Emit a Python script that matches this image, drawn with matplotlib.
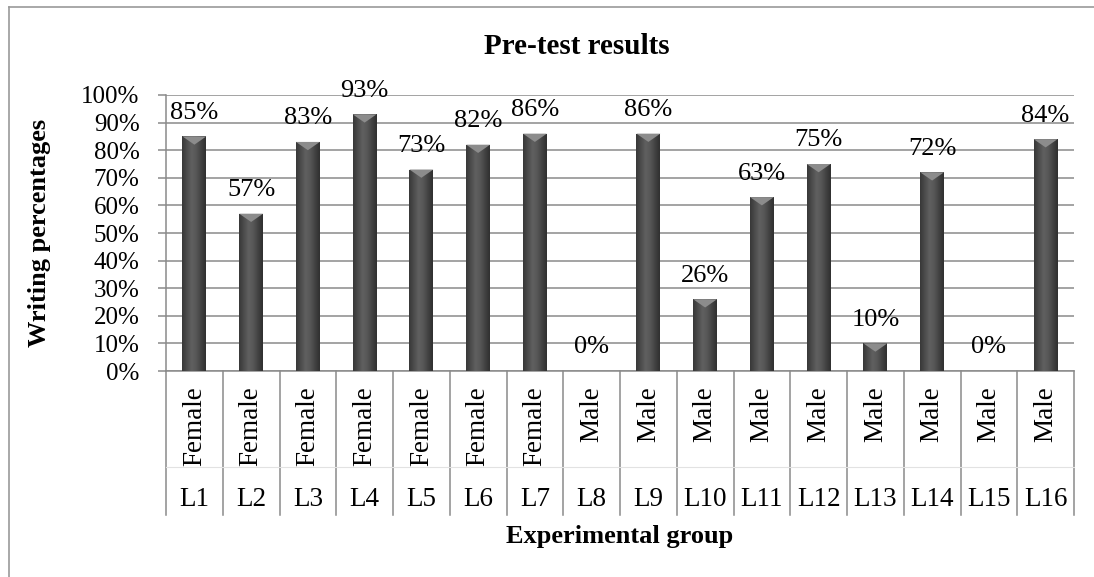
import matplotlib.pyplot as plt
import numpy as np
from matplotlib.colors import LinearSegmentedColormap
from matplotlib.patches import Polygon
from matplotlib.lines import Line2D
from matplotlib.transforms import blended_transform_factory

# Chart data
groups = ['L1', 'L2', 'L3', 'L4', 'L5', 'L6', 'L7', 'L8',
          'L9', 'L10', 'L11', 'L12', 'L13', 'L14', 'L15', 'L16']
genders = ['Female'] * 7 + ['Male'] * 9
scores = [85, 57, 83, 93, 73, 82, 86, 0, 86, 26, 63, 75, 10, 72, 0, 84]

plt.rcParams['font.family'] = ['Liberation Serif', 'DejaVu Serif']

fig = plt.figure(figsize=(10.94, 5.77), dpi=100)
ax = fig.add_axes([166 / 1094, 1 - 371 / 577, (1074 - 166) / 1094, (371 - 95) / 577])

x = np.arange(len(groups))
width = 0.42
grid_col = '#8a8a8a'

ax.set_xlim(-0.5, len(groups) - 0.5)
ax.set_ylim(0, 100)
ax.set_yticks(np.arange(0, 101, 10))
ax.set_yticklabels(['%d%%' % v for v in range(0, 101, 10)], fontsize=18)
ax.yaxis.grid(True, color=grid_col, linewidth=1.1)
ax.set_axisbelow(True)
ax.tick_params(axis='y', length=6, width=1.1, color=grid_col, pad=13)
ax.set_xticks([])
for side in ['top', 'right']:
    ax.spines[side].set_visible(False)
for side in ['left', 'bottom']:
    ax.spines[side].set_color(grid_col)
    ax.spines[side].set_linewidth(1.1)

# cylinder-like shading for the bars
shade = LinearSegmentedColormap.from_list(
    'shade', ['#383838', '#4c4c4c', '#606060', '#575757', '#424242', '#303030'])
grad = np.linspace(0, 1, 64).reshape(1, -1)

bars = ax.bar(x, scores, width=width, color='#4a4a4a', edgecolor='none', zorder=3)
for bar, val in zip(bars, scores):
    x0 = bar.get_x()
    if val > 0:
        im = ax.imshow(grad, cmap=shade, aspect='auto', zorder=3.5,
                       extent=[x0, x0 + width, 0, val], interpolation='bicubic')
        im.set_clip_path(bar)
        depth = min(3.0, val)
        bevel = Polygon([[x0, val], [x0 + width, val], [x0 + width / 2, val - depth]],
                        closed=True, facecolor='#8c8c8c', edgecolor='none', zorder=4)
        ax.add_patch(bevel)
    ax.annotate('%d%%' % val, (x0 + width / 2, val), xytext=(0, 17),
                textcoords='offset points', ha='center', va='center',
                fontsize=19, zorder=5)

# two-level category axis
trans = blended_transform_factory(ax.transData, ax.transAxes)
for b in np.arange(-0.5, len(groups), 1.0):
    ax.plot([b, b], [0, -0.522], transform=trans, color=grid_col,
            linewidth=1.1, clip_on=False)
ax.plot([-0.5, len(groups) - 0.5], [-0.348, -0.348], transform=trans,
        color='#e2e2e2', linewidth=0.8, clip_on=False)
for xi, g, lab in zip(x, genders, groups):
    ax.text(xi, -0.055, g, transform=trans, rotation=90, ha='center',
            va='top', fontsize=19.5)
    ax.text(xi, -0.467, lab, transform=trans, ha='center', va='center',
            fontsize=19.5)

fig.text(577 / 1094, 1 - 46 / 577, 'Pre-test results', ha='center',
         va='center', fontsize=21, fontweight='bold')
fig.text(40 / 1094, 1 - 233 / 577, 'Writing percentages', rotation=90,
         ha='center', va='center', fontsize=19, fontweight='bold')
fig.text(620 / 1094, 1 - 537 / 577, 'Experimental group', ha='center',
         va='center', fontsize=19, fontweight='bold')

# outer chart border (only left and top edges fall inside the picture)
fig.add_artist(Line2D([9 / 1094, 9 / 1094], [0, 1 - 7 / 577],
                      transform=fig.transFigure, color='#9a9a9a', linewidth=1.2))
fig.add_artist(Line2D([9 / 1094, 1], [1 - 7 / 577, 1 - 7 / 577],
                      transform=fig.transFigure, color='#9a9a9a', linewidth=1.2))

fig.savefig('out.png', dpi=100)
